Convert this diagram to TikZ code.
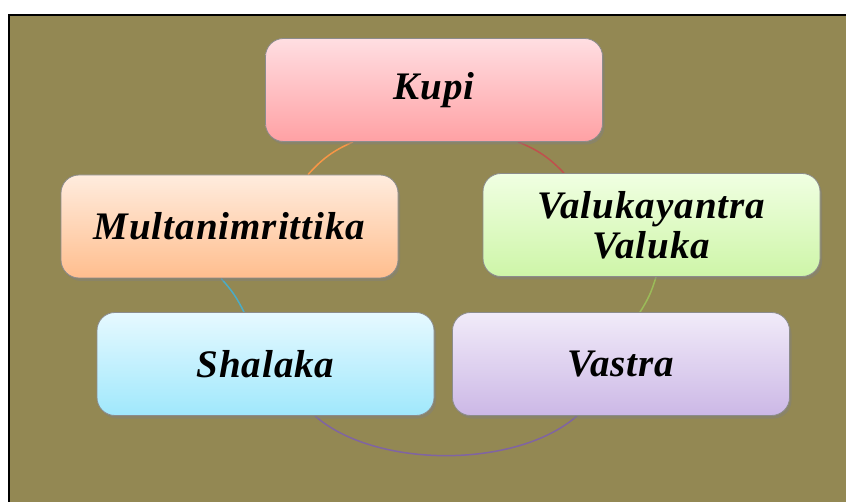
\documentclass[tikz,border=0pt]{standalone}
\usepackage{fontspec}
\newfontfamily\boxfont[LetterSpace=2.5]{Liberation Serif}
\usetikzlibrary{shadows,backgrounds}
\definecolor{olive}{RGB}{147,136,83}
\definecolor{cOrange}{RGB}{247,150,70}
\definecolor{cRed}{RGB}{192,80,77}
\definecolor{cBlue}{RGB}{75,172,198}
\definecolor{cGreen}{RGB}{155,187,89}
\definecolor{cPurple}{RGB}{128,100,162}
\tikzset{
  box/.style={draw=black!45, line width=0.8pt, rounded corners=18pt,
    minimum width=337pt, minimum height=103pt, inner sep=0pt, align=center,
    font=\boxfont\bfseries\itshape\fontsize{39}{40}\selectfont,
    drop shadow={opacity=0.45, shadow xshift=2pt, shadow yshift=-3pt}},
  conn/.style={line width=1.5pt}
}
\begin{document}
\begin{tikzpicture}[x=1pt,y=-1pt]
\useasboundingbox (0,0) rectangle (846,502);
\node[box, top color={rgb,255:red,255;green,222;blue,226}, bottom color={rgb,255:red,255;green,161;blue,164}] (kupi) at (434,90) {Kupi};
\node[box, top color={rgb,255:red,255;green,236;blue,222}, bottom color={rgb,255:red,255;green,190;blue,142}] (multan) at (229.5,226.5) {Multanimrittika};
\node[box, top color={rgb,255:red,240;green,255;blue,226}, bottom color={rgb,255:red,206;green,245;blue,168}] (valuka) at (651.5,225) {Valukayantra\\Valuka};
\node[box, top color={rgb,255:red,230;green,249;blue,255}, bottom color={rgb,255:red,160;green,232;blue,252}] (shalaka) at (265.5,364) {Shalaka};
\node[box, top color={rgb,255:red,241;green,235;blue,249}, bottom color={rgb,255:red,204;green,184;blue,230}] (vastra) at (621,364) {Vastra};
\begin{scope}[on background layer]
  \fill[white] (0,0) rectangle (846,502);
  \fill[olive] (9,15) rectangle (846,502);
  \draw[black, line width=2pt] (9,502) -- (9,15) -- (846,15);
  \draw[conn, cOrange] ([xshift=-81pt]kupi.south) to[bend right=12] ([xshift=78.5pt]multan.north);
  \draw[conn, cRed] ([xshift=84pt]kupi.south) to[bend left=12] ([xshift=-87.5pt]valuka.north);
  \draw[conn, cBlue] ([xshift=-8.5pt]multan.south) to[bend left=8] ([xshift=-21.5pt]shalaka.north);
  \draw[conn, cGreen] ([xshift=4.5pt]valuka.south) to[bend left=8] ([xshift=19pt]vastra.north);
  \draw[conn, cPurple] ([xshift=49.5pt]shalaka.south) .. controls +(60,53) and +(-60,53) .. ([xshift=-44pt]vastra.south);
\end{scope}
\end{tikzpicture}
\end{document}
